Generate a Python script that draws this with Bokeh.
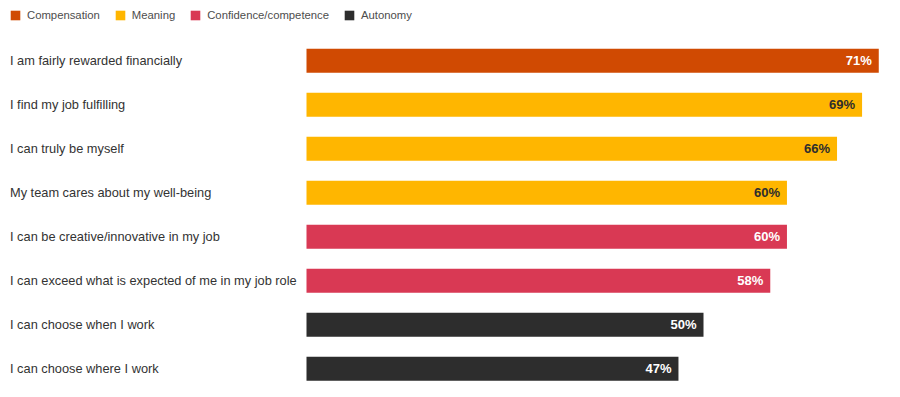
from bokeh.plotting import figure
from bokeh.models import ColumnDataSource, Range1d, Legend, LegendItem
from bokeh.core.properties import value
from bokeh.embed import file_html
from bokeh.resources import INLINE

# ---- data ----
categories = [
    "I am fairly rewarded financially",
    "I find my job fulfilling",
    "I can truly be myself",
    "My team cares about my well-being",
    "I can be creative/innovative in my job",
    "I can exceed what is expected of me in my job role",
    "I can choose when I work",
    "I can choose where I work",
]
values = [71, 69, 66, 60, 60, 58, 50, 47]
groups = [
    "Compensation",
    "Meaning",
    "Meaning",
    "Meaning",
    "Confidence/competence",
    "Confidence/competence",
    "Autonomy",
    "Autonomy",
]
group_names = ["Compensation", "Meaning", "Confidence/competence", "Autonomy"]
group_colors = ["#d04a02", "#ffb600", "#d93954", "#2d2d2d"]
value_label_colors = ["#ffffff", "#2d2d2d", "#ffffff", "#ffffff"]

# ---- layout constants (pixels) ----
W, H = 896, 395
PX_PER_UNIT = 8.346          # horizontal pixels per percentage point
ZERO_PX = 285.7              # x pixel of value 0
ROW_PX = 44.0                # vertical pixels per row
FIRST_ROW_PX = 60.3          # y pixel (from top) of first row centre
BAR_START_PX = 306           # where bars visibly begin
LABEL_PX = 9.5               # left edge of category labels

x_start = -ZERO_PX / PX_PER_UNIT
x_end = x_start + W / PX_PER_UNIT
y_top = -FIRST_ROW_PX / ROW_PX
y_bottom = y_top + H / ROW_PX
bar_base = (BAR_START_PX - ZERO_PX) / PX_PER_UNIT
label_x = (LABEL_PX - ZERO_PX) / PX_PER_UNIT

p = figure(
    width=W, height=H, output_backend="svg", toolbar_location=None,
    x_range=Range1d(x_start, x_end), y_range=Range1d(y_bottom, y_top),
    x_axis_location=None, y_axis_location=None,
    min_border=0, outline_line_color=None,
)
p.grid.visible = False
p.background_fill_color = "white"
p.border_fill_color = "white"

color_of = dict(zip(group_names, group_colors))
tcolor_of = dict(zip(group_names, value_label_colors))
ypos = list(range(len(categories)))

items = []
for g in group_names:
    idx = [i for i, gg in enumerate(groups) if gg == g]
    src = ColumnDataSource(dict(
        y=[ypos[i] for i in idx],
        v=[values[i] for i in idx],
    ))
    r = p.hbar(y="y", left=bar_base, right="v", height=24 / ROW_PX,
               fill_color=color_of[g], line_color=None, source=src)
    items.append(LegendItem(label=g, renderers=[r]))

lab_src = ColumnDataSource(dict(
    y=ypos,
    v=values,
    txt=[f"{v}%" for v in values],
    tc=[tcolor_of[g] for g in groups],
    cat=categories,
))
p.text(x="v", y="y", text="txt", source=lab_src, text_align="right",
       text_baseline="middle", x_offset=-7, text_color="tc",
       text_font=value("Liberation Sans"), text_font_style="bold",
       text_font_size="13px")
p.text(x=label_x, y="y", text="cat", source=lab_src, text_align="left",
       text_baseline="middle", text_color="#333333",
       text_font=value("Liberation Sans"), text_font_size="12.8px")

legend = Legend(
    items=items, orientation="horizontal", location="top_left",
    glyph_width=12, glyph_height=12, label_standoff=6, spacing=14,
    padding=0, margin=9, border_line_color=None, background_fill_alpha=0,
    label_text_font="Liberation Sans", label_text_font_size="11.3px",
    label_text_color="#4d4d4d", label_height=12,
)
p.add_layout(legend)

open("out.html", "w").write(file_html(p, INLINE))
